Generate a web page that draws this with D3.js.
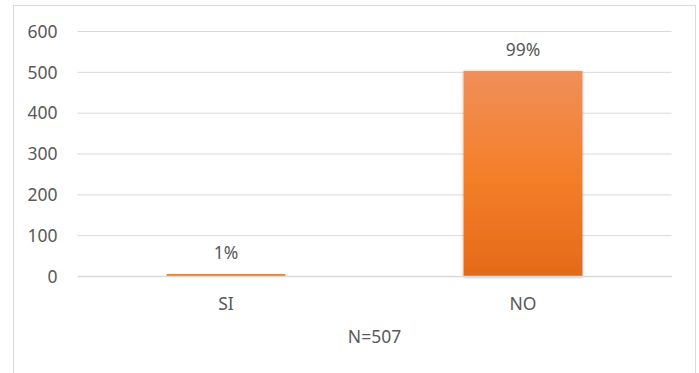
<!DOCTYPE html>
<html>
<head>
<meta charset="utf-8">
<script src="https://cdn.jsdelivr.net/npm/d3@7"></script>
<style>
  html, body { margin: 0; padding: 0; background: #fff; }
  svg { display: block; }
  svg text { font-family: "Noto Sans", "Open Sans", sans-serif; }
</style>
</head>
<body>
<svg id="chart" width="699" height="373"></svg>
<script>
// data
var categories = ["SI", "NO"];
var counts = [5, 502];
var labels = ["1%", "99%"];
var yTicks = [0, 100, 200, 300, 400, 500, 600];
var note = "N=507";

var svg = d3.select("#chart");
var plot = { left: 77.5, right: 671.5, top: 31, bottom: 276 };
var textColor = "#595959";
var fontSize = "17.5px";

// outer frame
svg.append("rect")
  .attr("x", 13.5).attr("y", 5.5)
  .attr("width", 682).attr("height", 380)
  .attr("fill", "none").attr("stroke", "#d9d9d9");

var defs = svg.append("defs");
var grad = defs.append("linearGradient")
  .attr("id", "barGrad").attr("x1", 0).attr("y1", 0).attr("x2", 0).attr("y2", 1);
grad.append("stop").attr("offset", "0%").attr("stop-color", "#f08f5a");
grad.append("stop").attr("offset", "50%").attr("stop-color", "#f47f2a");
grad.append("stop").attr("offset", "100%").attr("stop-color", "#e56a18");

var shadow = defs.append("filter").attr("id", "shadow")
  .attr("x", "-10%").attr("y", "-10%").attr("width", "120%").attr("height", "120%");
shadow.append("feDropShadow")
  .attr("dx", 0).attr("dy", 1).attr("stdDeviation", 1.5)
  .attr("flood-color", "#000").attr("flood-opacity", 0.35);

var x = d3.scaleBand().domain(categories).range([plot.left, plot.right]).padding(0);
var y = d3.scaleLinear().domain([0, 600]).range([plot.bottom, plot.top]);
var barW = x.bandwidth() * 0.4;

// y axis: gridlines + labels
var yAxis = d3.axisLeft(y).tickValues(yTicks)
  .tickSize(-(plot.right - plot.left)).tickPadding(20);
var gy = svg.append("g").attr("transform", "translate(" + plot.left + ",0)").call(yAxis);
gy.attr("font-family", null).attr("font-size", null);
gy.select(".domain").remove();
gy.selectAll(".tick line").attr("stroke", "#d9d9d9").attr("stroke-width", 1);
gy.selectAll(".tick text")
  .attr("fill", textColor).style("font-size", fontSize).attr("dy", "0.36em");

// bars
svg.selectAll("rect.bar")
  .data(counts)
  .enter().append("rect")
    .attr("class", "bar")
    .attr("x", function(d, i){ return x(categories[i]) + (x.bandwidth() - barW) / 2; })
    .attr("y", function(d){ return y(d); })
    .attr("width", barW)
    .attr("height", function(d){ return Math.max(1.5, y(0) - y(d)); })
    .attr("fill", function(d){ return d > 20 ? "url(#barGrad)" : "#f47f2a"; })
    .attr("filter", function(d){ return d > 20 ? "url(#shadow)" : null; });

// data labels
svg.selectAll("text.val")
  .data(counts)
  .enter().append("text")
    .attr("class", "val")
    .attr("x", function(d, i){ return x(categories[i]) + x.bandwidth() / 2; })
    .attr("y", function(d){ return y(d) - 15; })
    .attr("text-anchor", "middle")
    .attr("fill", textColor).style("font-size", fontSize)
    .text(function(d, i){ return labels[i]; });

// x axis: zero line + category labels
var xAxis = d3.axisBottom(x).tickSize(0).tickPadding(22);
var gx = svg.append("g").attr("transform", "translate(0," + y(0) + ")").call(xAxis);
gx.attr("font-family", null).attr("font-size", null);
gx.select(".domain").attr("stroke", "#d9d9d9").attr("stroke-width", 1.5);
gx.selectAll(".tick text").attr("fill", textColor).style("font-size", fontSize);

svg.append("text")
  .attr("x", (plot.left + plot.right) / 2)
  .attr("y", 343)
  .attr("text-anchor", "middle")
  .attr("fill", textColor).style("font-size", fontSize)
  .text(note);
</script>
</body>
</html>
